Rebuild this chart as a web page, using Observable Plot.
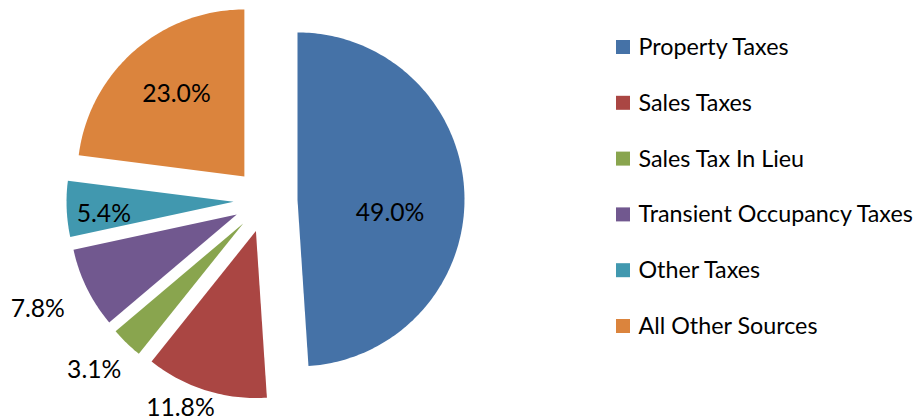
<!DOCTYPE html>
<html>
<head>
<meta charset="utf-8">
<script src="https://cdn.jsdelivr.net/npm/d3@7"></script>
<script src="https://cdn.jsdelivr.net/npm/@observablehq/plot@0.6"></script>
<style>
  html, body { margin: 0; padding: 0; background: #fff; }
  #chart { width: 914px; height: 420px; }
</style>
</head>
<body>
<div id="chart"></div>
<script>
// ---- data ----
const categories = ["Property Taxes", "Sales Taxes", "Sales Tax In Lieu", "Transient Occupancy Taxes", "Other Taxes", "All Other Sources"];
const shares = [49.0, 11.8, 3.1, 7.8, 5.4, 23.0];
const labels = ["49.0%", "11.8%", "3.1%", "7.8%", "5.4%", "23.0%"];
const colors = ["#4572A7", "#AA4643", "#89A54E", "#71588F", "#4198AF", "#DB843D"];

// ---- layout (pixels) ----
const W = 914, H = 420;
const CX = 265, CY = 200, R = 167, EXPLODE = 32;
// label placement: radius as fraction of R and angular nudge (degrees)
const labelRadius = [0.56, 1.15, 1.25, 1.32, 0.78, 0.64];
const labelNudge = [10, 5.7, 1.3, 0.7, -2.9, 1.9];
const legendX = 616, legendBox = 14, legendTextX = 638, legendTop = 47, legendStep = 55.8;
const FONT = "Lato, 'Open Sans', sans-serif";

const total = d3.sum(shares);
const ends = d3.cumsum(shares);
const deg = Math.PI / 180;

const polyRows = [];
const labelRows = [];
categories.forEach((name, i) => {
  const a0 = (ends[i] - shares[i]) / total * 2 * Math.PI;
  const a1 = ends[i] / total * 2 * Math.PI;
  const am = (a0 + a1) / 2;
  const ax = CX + EXPLODE * Math.sin(am);
  const ay = CY - EXPLODE * Math.cos(am);
  polyRows.push({name, x: ax, y: ay});
  const n = Math.max(2, Math.ceil((a1 - a0) / deg));
  for (let k = 0; k <= n; k++) {
    const a = a0 + (a1 - a0) * k / n;
    polyRows.push({name, x: ax + R * Math.sin(a), y: ay - R * Math.cos(a)});
  }
  const la = am + labelNudge[i] * deg;
  const lr = labelRadius[i] * R;
  labelRows.push({name, text: labels[i], x: ax + lr * Math.sin(la), y: ay - lr * Math.cos(la)});
});

const legendRows = categories.map((name, i) => ({name, i, y: legendTop + i * legendStep}));

const chart = Plot.plot({
  width: W,
  height: H,
  margin: 0,
  x: {domain: [0, W], range: [0, W], axis: null},
  y: {domain: [0, H], range: [0, H], axis: null},
  color: {domain: categories, range: colors},
  style: {fontFamily: FONT, background: "#fff"},
  marks: [
    Plot.line(polyRows, {x: "x", y: "y", z: "name", fill: "name", stroke: "none", curve: "linear-closed"}),
    Plot.text(labelRows, {x: "x", y: "y", text: "text", fill: "#000", fontSize: 24.7, fontFamily: FONT}),
    Plot.rect(legendRows, {
      x1: () => legendX, x2: () => legendX + legendBox,
      y1: d => d.y - legendBox / 2, y2: d => d.y + legendBox / 2,
      fill: "name"
    }),
    Plot.text(legendRows, {x: () => legendTextX, y: "y", text: "name", textAnchor: "start", fill: "#000", fontSize: 23.3, fontFamily: FONT})
  ]
});
document.getElementById("chart").appendChild(chart);
</script>
</body>
</html>
